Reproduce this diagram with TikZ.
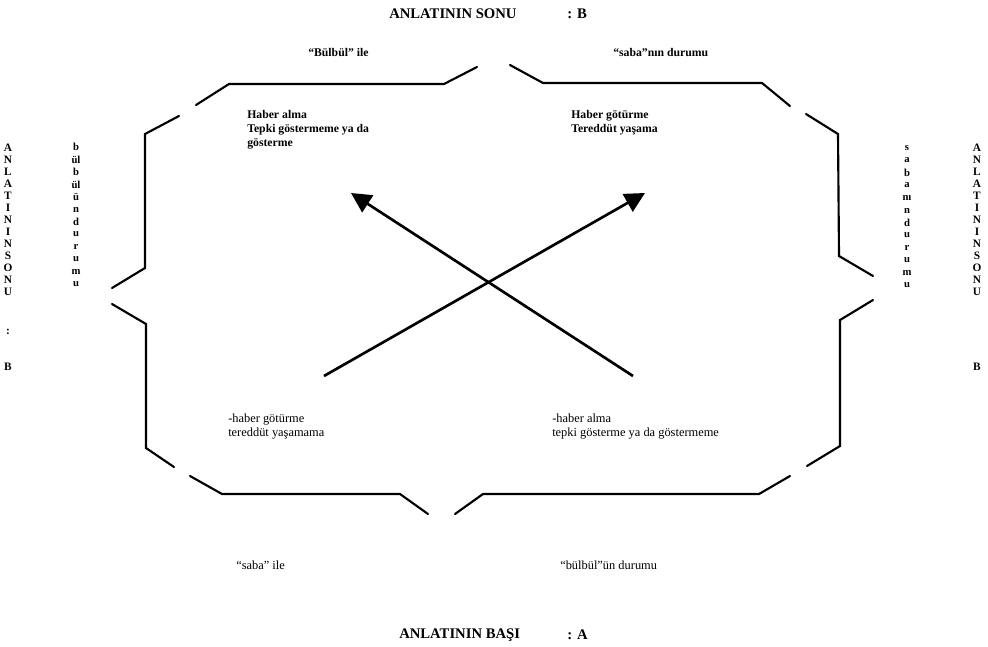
\documentclass[tikz,border=0pt]{standalone}
\usepackage{fontspec}
\setmainfont{Liberation Serif}
\usetikzlibrary{arrows.meta}
\begin{document}
\begin{tikzpicture}[x=0.75pt,y=-0.75pt,
  brk/.style={line width=1.6pt, line join=miter, line cap=round},
  arr/.style={line width=2pt, -{Triangle[length=15pt,width=15pt]}},
  ttl/.style={font=\fontsize{11}{13}\selectfont\bfseries, inner sep=0pt, anchor=west},
  upl/.style={font=\fontsize{8.8}{10.5}\selectfont\bfseries, inner sep=0pt, anchor=north west, align=left},
  lol/.style={font=\fontsize{9.3}{10.5}\selectfont, inner sep=0pt, anchor=north west, align=left},
  ocol/.style={font=\fontsize{8.5}{9}\selectfont\bfseries, inner sep=0pt},
  icol/.style={font=\fontsize{8}{9}\selectfont\bfseries, inner sep=0pt}
]
\useasboundingbox (0,0) rectangle (988,646);

% titles
\node[ttl] (tsonu) at (389,14) {ANLATININ SONU};
\node[ttl] (tsonub) at (567,14) {: B};
\node[ttl] (tbasi) at (399,635) {ANLATININ BAŞI};
\node[ttl] (tbasia) at (567,635) {: A};

% side labels around the frame
\node[upl, anchor=west] (bulbulile) at (308,52) {“Bülbül” ile};
\node[upl, anchor=west] (sabadurum) at (613,53) {“saba”nın durumu};
\node[lol, anchor=west] (sabaile) at (236,565) {“saba” ile};
\node[lol, anchor=west] (bulbuldurum) at (560,565) {“bülbül”ün durumu};

% inner texts
\node[upl] (tl) at (247,110) {Haber alma\\Tepki göstermeme ya da\\gösterme};
\node[upl] (tr) at (571,110) {Haber götürme\\Tereddüt yaşama};
\node[lol] (bl) at (228,414) {-haber götürme\\tereddüt yaşamama};
\node[lol] (br) at (552,414) {-haber alma\\tepki gösterme ya da göstermeme};

% vertical columns
\foreach \t [count=\i from 0] in {A,N,L,A,T,I,N,I,N,S,O,N,U}
  \node[ocol] (lo\i) at (8,{148+12*\i}) {\t};
\node[ocol] (locolon) at (8,332) {:};
\node[ocol] (lob) at (8,367) {B};
\foreach \t [count=\i from 0] in {A,N,L,A,T,I,N,I,N,S,O,N,U}
  \node[ocol] (ro\i) at (977,{148+12*\i}) {\t};
\node[ocol] (rob) at (977,367) {B};
\foreach \t [count=\i from 0] in {b,ül,b,ül,ü,n,d,u,r,u,m,u}
  \node[icol] (li\i) at (76,{147+12.5*\i}) {\t};
\foreach \t [count=\i from 0] in {s,a,b,a,nı,n,d,u,r,u,m,u}
  \node[icol] (ri\i) at (907,{148+12.5*\i}) {\t};

% frame pieces
\draw[brk] (477,67) -- (444,84) -- (229,84) -- (196,105);
\draw[brk] (179,116) -- (145,134) -- (145,268) -- (112,288);
\draw[brk] (112,304) -- (146,324) -- (146,448) -- (174,467);
\draw[brk] (190,476) -- (222,494) -- (400,494) -- (428,514);
\draw[brk] (455,514) -- (483,494) -- (759,494) -- (790,476);
\draw[brk] (807,466) -- (840,446) -- (840,320) -- (873,300);
\draw[brk] (873,276) -- (839,256) -- (838,134) -- (806,114);
\draw[brk] (790,106) -- (762,83) -- (543,83) -- (510,65);

% arrows
\coordinate (t1) at (324,376);
\coordinate (h1) at (645,193);
\coordinate (t2) at (633,376);
\coordinate (h2) at (351,193);
\draw[arr] (t1) -- (h1);
\draw[arr] (t2) -- (h2);
\end{tikzpicture}
\end{document}
